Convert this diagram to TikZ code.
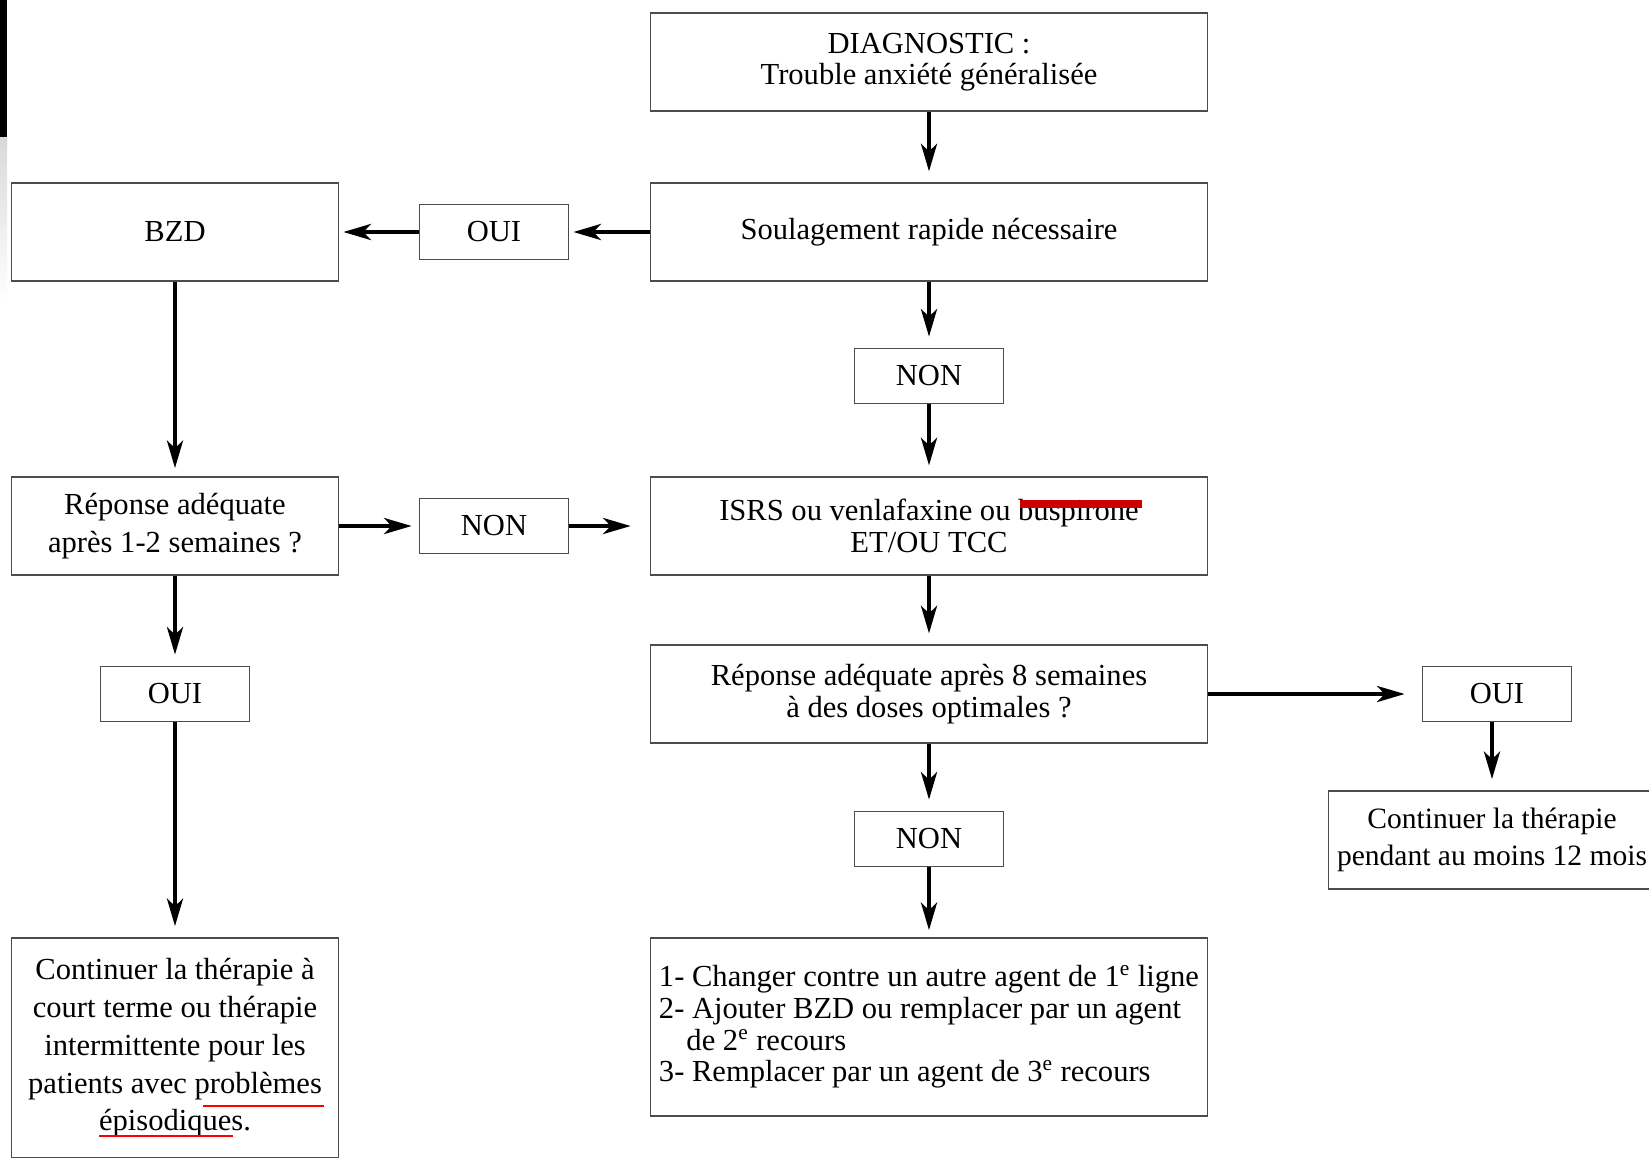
\documentclass[tikz,border=0pt]{standalone}
\usepackage{fontspec}
\setmainfont{Liberation Serif}
\usetikzlibrary{arrows.meta}

\tikzset{
  box/.style={draw=black!70, line width=1pt, align=center, inner sep=2pt,
    font=\fontsize{17.4}{18}\selectfont},
  widebox/.style={box, minimum width=11.14cm, minimum height=1.95cm},
  sidebox/.style={box, minimum width=6.54cm, minimum height=1.96cm,
    font=\fontsize{17.4}{21.5}\selectfont},
  answer/.style={box, minimum width=2.98cm, minimum height=1.1cm},
  arr/.style={-{Stealth[length=0.55cm,width=0.32cm,inset=0.15cm]}, line width=2.4pt, shorten >=0.22cm},
}

\begin{document}
\begin{tikzpicture}[x=0.02cm,y=-0.02cm]
\useasboundingbox (0,0) rectangle (1649,1157);

\begin{scope}
\clip (0,0) rectangle (1649,1157);

% edge of the scan
\fill[black] (0,0) rectangle (7,137);
\shade[top color=black!15, bottom color=white] (0,137) rectangle (7,300);

% middle column
\node[widebox] (diag) at (929,62) {DIAGNOSTIC :\\Trouble anxiété généralisée};
\node[widebox] (soul) at (929,232) {Soulagement rapide nécessaire};
\node[answer] (non1) at (929,376) {NON};
\node[widebox] (isrs) at (929,526) {ISRS ou venlafaxine ou buspirone\\ET/OU TCC};
\node[widebox] (rep8) at (929,694) {Réponse adéquate après 8 semaines\\à des doses optimales ?};
\node[answer] (nonlow) at (929,839) {NON};
\node[widebox, minimum height=3.56cm, align=left] (list) at (929,1027)
  {1- Changer contre un autre agent de 1\textsuperscript{e} ligne\\
   2- Ajouter BZD ou remplacer par un agent\\
   \hspace*{0.55cm}de 2\textsuperscript{e} recours\\
   3- Remplacer par un agent de 3\textsuperscript{e} recours};

% left column
\node[sidebox] (bzd) at (175,232) {BZD};
\node[answer] (oui1) at (494,232) {OUI};
\node[sidebox] (rep1) at (175,526) {Réponse adéquate\\après 1-2 semaines ?};
\node[answer] (non2) at (494,526) {NON};
\node[answer] (oui2) at (175,694) {OUI};
\node[sidebox, minimum height=4.4cm] (cont) at (175,1048)
  {Continuer la thérapie à\\court terme ou thérapie\\intermittente pour les\\patients avec problèmes\\épisodiques.};

% right column
\node[answer] (oui3) at (1497,694) {OUI};
\node[sidebox, font=\fontsize{16.8}{21}\selectfont] (cont12) at (1492,840)
  {Continuer la thérapie\\pendant au moins 12 mois};

% marks on the scan
\fill[red!80!black] (1020,500) rectangle (1142,508);
\draw[red, line width=1.2pt] (203,1106) -- (324,1106);
\draw[red, line width=1.2pt] (99,1136) -- (233,1136);

% arrows
\draw[arr] (diag) -- (soul);
\draw[arr, shorten >=0.08cm] (soul) -- (oui1);
\draw[arr, shorten >=0.08cm] (oui1) -- (bzd);
\draw[arr, shorten >=0.16cm] (bzd) -- (rep1);
\draw[arr] (soul) -- (non1);
\draw[arr] (non1) -- (isrs);
\draw[arr, shorten >=0.14cm] (rep1) -- (non2);
\draw[arr, shorten >=0.38cm] (non2) -- (isrs);
\draw[arr] (isrs) -- (rep8);
\draw[arr] (rep1) -- (oui2);
\draw[arr] (oui2) -- (cont);
\draw[arr, shorten >=0.34cm] (rep8) -- (oui3);
\draw[arr] (oui3.south -| cont12) -- (cont12);
\draw[arr] (rep8) -- (nonlow);
\draw[arr, shorten >=0.14cm] (nonlow) -- (list);
\end{scope}

\end{tikzpicture}
\end{document}
